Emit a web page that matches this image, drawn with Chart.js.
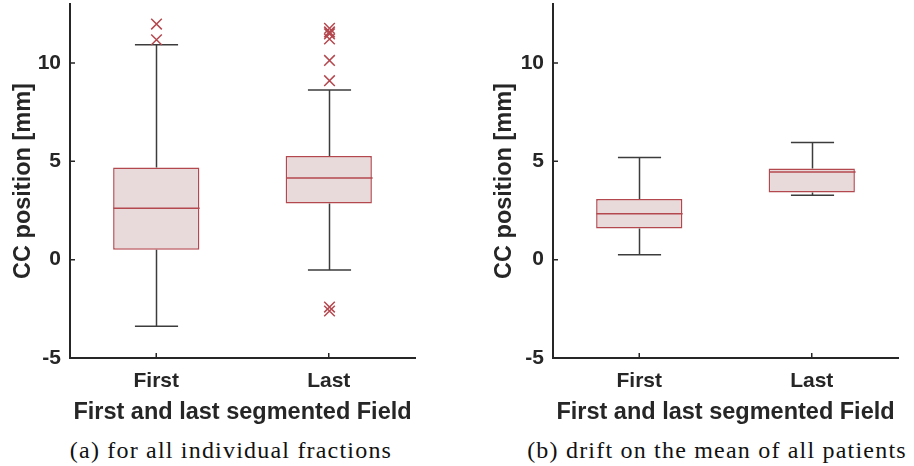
<!DOCTYPE html>
<html>
<head>
<meta charset="utf-8">
<script src="https://cdn.jsdelivr.net/npm/chart.js@4.4.1/dist/chart.umd.min.js"></script>
<style>
  html, body { margin: 0; padding: 0; background: #fff; }
  #wrap { position: relative; width: 914px; height: 466px; overflow: hidden; }
  canvas { position: absolute; top: 0; }
  .caption {
    position: absolute; top: 436px; line-height: 28px;
    font-family: "Liberation Serif", "DejaVu Serif", serif; font-size: 24px;
    letter-spacing: 1.2px; color: #111; white-space: nowrap; transform: translateX(-50%);
  }
</style>
</head>
<body>
<div id="wrap">
  <canvas id="fractions" width="457" height="430" style="left:0"></canvas>
  <canvas id="patients" width="457" height="430" style="left:457px"></canvas>
  <div class="caption" style="left:231px">(a) for all individual fractions</div>
  <div class="caption" style="left:717px">(b) drift on the mean of all patients</div>
</div>
<script>
const fields = ["First", "Last"];

// all individual fractions
const fracLow = [-3.39, -0.53];
const fracQ1 = [0.51, 2.85];
const fracMedian = [2.61, 4.15];
const fracQ3 = [4.69, 5.27];
const fracHigh = [10.93, 8.63];
const fracOutFirst = [11.18, 11.98];
const fracOutLast = [-2.61, -2.41, 9.1, 10.13, 11.22, 11.48, 11.58, 11.76];

// mean per patient
const meanLow = [0.25, 3.27];
const meanQ1 = [1.58, 3.41];
const meanMedian = [2.34, 4.46];
const meanQ3 = [3.09, 4.63];
const meanHigh = [5.2, 5.96];

const yTicks = [-5, 0, 5, 10];

const BOX_EDGE = "#b4484f";
const BOX_FILL = "#e8d9da";
const WHISKER = "#3c3c3c";
const AXIS = "#262626";

// whiskers, caps, medians, outlier crosses and inward tick marks
const boxWhiskers = {
  id: "boxWhiskers",
  afterDatasetsDraw(chart, args, opts) {
    const { ctx, chartArea } = chart;
    const x = chart.scales.x;
    const y = chart.scales.y;
    const step = x.getPixelForValue(1) - x.getPixelForValue(0);
    const capHalf = step * 0.125;
    const boxHalf = step * 0.25;
    ctx.save();
    ctx.lineCap = "butt";
    opts.median.forEach((m, i) => {
      const cx = Math.round(x.getPixelForValue(i)) + 0.5;
      ctx.strokeStyle = WHISKER;
      ctx.lineWidth = 1.5;
      ctx.beginPath();
      ctx.moveTo(cx, y.getPixelForValue(opts.q3[i]));
      ctx.lineTo(cx, y.getPixelForValue(opts.high[i]));
      ctx.moveTo(cx, y.getPixelForValue(opts.q1[i]));
      ctx.lineTo(cx, y.getPixelForValue(opts.low[i]));
      [opts.high[i], opts.low[i]].forEach(v => {
        const py = y.getPixelForValue(v);
        ctx.moveTo(cx - capHalf, py);
        ctx.lineTo(cx + capHalf, py);
      });
      ctx.stroke();

      ctx.strokeStyle = BOX_EDGE;
      ctx.beginPath();
      const my = y.getPixelForValue(m);
      ctx.moveTo(cx - boxHalf, my);
      ctx.lineTo(cx + boxHalf, my);
      (opts.outliers[i] || []).forEach(v => {
        const py = y.getPixelForValue(v);
        const r = 5.3;
        ctx.moveTo(cx - r, py - r);
        ctx.lineTo(cx + r, py + r);
        ctx.moveTo(cx - r, py + r);
        ctx.lineTo(cx + r, py - r);
      });
      ctx.stroke();
    });

    ctx.strokeStyle = AXIS;
    ctx.lineWidth = 1.5;
    ctx.beginPath();
    fields.forEach((f, i) => {
      const px = x.getPixelForValue(i);
      ctx.moveTo(px, chartArea.bottom);
      ctx.lineTo(px, chartArea.bottom - 5);
    });
    yTicks.forEach(v => {
      const py = y.getPixelForValue(v);
      ctx.moveTo(chartArea.left, py);
      ctx.lineTo(chartArea.left + 5, py);
    });
    ctx.stroke();
    ctx.restore();
  }
};

function makeBoxChart(id, stats, layout) {
  return new Chart(document.getElementById(id), {
    type: "bar",
    data: {
      labels: fields,
      datasets: [{
        data: stats.q1.map((q, i) => [q, stats.q3[i]]),
        backgroundColor: BOX_FILL,
        borderColor: BOX_EDGE,
        borderWidth: 1.5,
        borderSkipped: false,
        barPercentage: 0.5,
        categoryPercentage: 1.0
      }]
    },
    plugins: [boxWhiskers],
    options: {
      responsive: false,
      animation: false,
      layout: { padding: { top: 4, right: layout.right, left: 0, bottom: 0 } },
      plugins: {
        legend: { display: false },
        tooltip: { enabled: false },
        boxWhiskers: stats
      },
      scales: {
        x: {
          grid: { display: false, drawTicks: false },
          border: { display: true, color: AXIS, width: 2 },
          ticks: {
            color: AXIS, padding: 11,
            font: { family: "Liberation Sans, Arial, sans-serif", size: 21, weight: "bold" }
          },
          title: {
            display: true, text: "First and last segmented Field", color: AXIS,
            padding: { top: 0, bottom: 3 },
            font: { family: "Liberation Sans, Arial, sans-serif", size: 23.5, weight: "bold" }
          },
          afterFit(scale) { scale.height = 72; }
        },
        y: {
          min: -5, max: 13,
          grid: { display: false, drawTicks: false },
          border: { display: true, color: AXIS, width: 2 },
          ticks: {
            stepSize: 5, color: AXIS, padding: 9,
            font: { family: "Liberation Sans, Arial, sans-serif", size: 21, weight: "bold" }
          },
          afterBuildTicks(scale) {
            scale.ticks = yTicks.map(v => ({ value: v }));
          },
          title: {
            display: true, text: "CC position [mm]", color: AXIS,
            padding: { top: layout.titlePad, bottom: 0 },
            font: { family: "Liberation Sans, Arial, sans-serif", size: 23.5, weight: "bold" }
          },
          afterFit(scale) {
            scale.width = layout.axisX;
            scale.paddingTop = 0;
            scale.paddingBottom = 0;
          }
        }
      }
    }
  });
}

makeBoxChart("fractions",
  { low: fracLow, q1: fracQ1, median: fracMedian, q3: fracQ3, high: fracHigh,
    outliers: [fracOutFirst, fracOutLast] },
  { axisX: 70, right: 42, titlePad: 9 });

makeBoxChart("patients",
  { low: meanLow, q1: meanQ1, median: meanMedian, q3: meanQ3, high: meanHigh,
    outliers: [] },
  { axisX: 96, right: 16, titlePad: 33 });
</script>
</body>
</html>
